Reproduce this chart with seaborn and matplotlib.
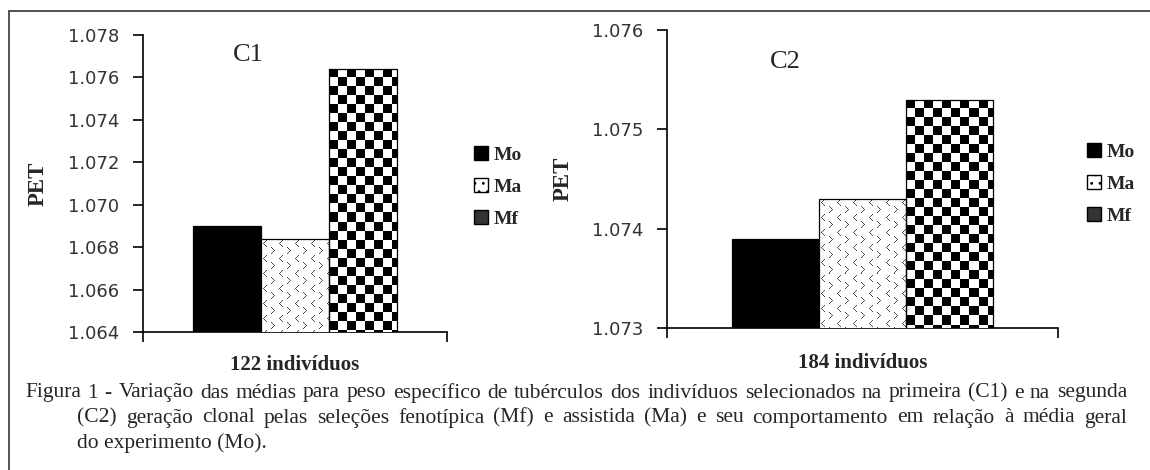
import numpy as np
import pandas as pd
import matplotlib
matplotlib.use("Agg")
import matplotlib.pyplot as plt
import seaborn as sns
from matplotlib.patches import Patch
from matplotlib.lines import Line2D
from matplotlib.transforms import Bbox, TransformedBbox

# ---------------- data ----------------
series = ["Mo", "Ma", "Mf"]
c1_group = "122 indivíduos"
c1_values = [1.0690, 1.06838, 1.0764]
c1_ticks = [1.064, 1.066, 1.068, 1.070, 1.072, 1.074, 1.076, 1.078]
c1_ticklabels = ["1.064", "1.066", "1.068", "1.070", "1.072", "1.074", "1.076", "1.078"]
c2_group = "184 indivíduos"
c2_values = [1.0739, 1.0743, 1.0753]
c2_ticks = [1.073, 1.074, 1.075, 1.076]
c2_ticklabels = ["1.073", "1.074", "1.075", "1.076"]
panel_titles = ["C1", "C2"]
y_label = "PET"
caption_lines = [
    "Figura 1 - Variação das médias para peso específico de tubérculos dos indivíduos selecionados na primeira (C1) e na segunda",
    "(C2) geração clonal pelas seleções fenotípica (Mf) e assistida (Ma) e seu comportamento em relação à média geral",
    "do experimento (Mo).",
]

# ---------------- style ----------------
sns.set_style("ticks")
plt.rcParams["font.family"] = ["Liberation Serif", "DejaVu Serif"]
plt.rcParams["hatch.linewidth"] = 0.8

W, H = 1150, 470
fig = plt.figure(figsize=(W / 100, H / 100), dpi=100)


def frame(x0, y0, x1, y1):
    return [x0 / W, 1 - y1 / H, (x1 - x0) / W, (y1 - y0) / H]


ax1 = fig.add_axes(frame(143, 35, 447, 332))
ax2 = fig.add_axes(frame(667, 30, 1058, 328))

# outer box (top and left rules)
fig.add_artist(Line2D([9 / W, 1.0], [1 - 11 / H, 1 - 11 / H], transform=fig.transFigure,
                      color="#444444", lw=1.3))
fig.add_artist(Line2D([9 / W, 9 / W], [0.0, 1 - 11 / H], transform=fig.transFigure,
                      color="#444444", lw=1.3))


def checker_rgb(ny, nx):
    yy, xx = np.mgrid[0:ny, 0:nx]
    black = ((xx + yy) % 2 == 0)
    arr = np.ones((ny, nx, 3))
    arr[black] = 0.0
    return arr


def marks_rgb(ny, nx):
    tile = np.ones((15, 16, 3))
    lt = [(0, 3), (1, 2), (2, 1), (3, 0), (4, 1), (5, 2), (6, 3)]
    gt = [(0, 0), (1, 1), (2, 2), (3, 3), (4, 2), (5, 1), (6, 0)]
    for r, c in lt:
        tile[1 + r, 2 + c] = 0.3
    for r, c in gt:
        tile[8 + r, 10 + c] = 0.3
    reps = (ny // 15 + 2, nx // 16 + 2, 1)
    return np.tile(tile, reps)[:ny, :nx]


def draw_panel(ax, group, values, ticks, ticklabels, title, title_xy, ylab_x, xlab_y, ylim):
    df = pd.DataFrame({"grupo": [group] * len(series), "serie": series, "PET": values})
    sns.barplot(data=df, x="grupo", y="PET", hue="serie", hue_order=series,
                palette=["black", "white", "white"], width=0.67, edgecolor="black",
                linewidth=0.9, ax=ax, legend=False, errorbar=None)
    ax.set_xlim(-0.5, 0.5)
    ax.set_ylim(*ylim)
    ax.set_yticks(ticks)
    ax.set_yticklabels(ticklabels)
    for lab in ax.get_yticklabels():
        lab.set_fontfamily("DejaVu Sans")
    ax.set_xticks([-0.5, 0.5])
    ax.set_xticklabels(["", ""])
    ax.tick_params(axis="both", direction="out", length=7, width=1.2, color="black",
                   bottom=True, left=True, top=False, right=False)
    ax.tick_params(axis="y", pad=10, labelsize=13, labelcolor="#333333")
    for s in ["top", "right"]:
        ax.spines[s].set_visible(False)
    for s in ["left", "bottom"]:
        ax.spines[s].set_color("black")
        ax.spines[s].set_linewidth(1.2)
    ax.set_xlabel(group, fontsize=15, fontweight="bold", va="center")
    ax.xaxis.set_label_coords(0.5, xlab_y)
    ax.set_ylabel(y_label, fontsize=16.5, fontweight="bold", va="center")
    ax.yaxis.set_label_coords(ylab_x, 0.5)
    ax.text(title_xy[0], title_xy[1], title, transform=ax.transAxes, fontsize=19,
            ha="center", va="center")

    # textures for Ma and Mf bars
    bars = sorted(ax.patches, key=lambda p: p.get_x())
    td = ax.transData
    px_per_x = td.transform((1, 0))[0] - td.transform((0, 0))[0]
    px_per_y = td.transform((0, 1))[1] - td.transform((0, 0))[1]
    ylo = ylim[0]
    for idx, p in enumerate(bars):
        name = series[idx]
        if name == "Mo":
            continue
        x0 = p.get_x()
        w = p.get_width()
        ytop = p.get_y() + p.get_height()
        wpx = w * px_per_x
        hpx = (ytop - ylo) * px_per_y
        if name == "Mf":
            cell = 9.0
            nx = int(np.ceil(wpx / cell)) + 1
            ny = int(np.ceil(hpx / cell)) + 1
            arr = checker_rgb(ny, nx)
            ext = (x0, x0 + nx * cell / px_per_x, ytop - ny * cell / px_per_y, ytop)
        else:
            nx = int(np.ceil(wpx)) + 2
            ny = int(np.ceil(hpx)) + 2
            arr = marks_rgb(ny, nx)
            ext = (x0, x0 + nx / px_per_x, ytop - ny / px_per_y, ytop)
        im = ax.imshow(arr, extent=ext, origin="upper", interpolation="nearest",
                       aspect="auto", zorder=3)
        clip = TransformedBbox(Bbox.from_extents(x0, ylo, x0 + w, ytop), ax.transData)
        im.set_clip_path(None)
        im.set_clip_box(clip)
        p.set_facecolor("none")
        p.set_zorder(4)
    ax.set_xlim(-0.5, 0.5)
    ax.set_ylim(*ylim)


draw_panel(ax1, c1_group, c1_values, c1_ticks, c1_ticklabels, panel_titles[0],
           ((248 - 143) / 304, (332 - 55) / 297), (38 - 143) / 304, -(365 - 332) / 297,
           (c1_ticks[0], c1_ticks[-1]))
draw_panel(ax2, c2_group, c2_values, c2_ticks, c2_ticklabels, panel_titles[1],
           ((785 - 667) / 391, (328 - 62) / 298), (563 - 667) / 391, -(363 - 328) / 298,
           (c2_ticks[0], c2_ticks[-1]))

handles = [
    Patch(facecolor="black", edgecolor="black", label="Mo"),
    Patch(facecolor="white", edgecolor="black", hatch="..", label="Ma"),
    Patch(facecolor="#333333", edgecolor="black", label="Mf"),
]
for ax, (lx, ly) in [(ax1, (474, 187)), (ax2, (1087, 184))]:
    ax.legend(handles=handles, loc="center left",
              bbox_to_anchor=(lx / W, 1 - ly / H), bbox_transform=fig.transFigure,
              frameon=False, borderpad=0, borderaxespad=0, handlelength=0.7,
              handleheight=0.7, handletextpad=0.3, labelspacing=0.75,
              prop={"family": "Liberation Serif", "weight": "bold", "size": 14})

# ---------------- caption (justified) ----------------
cap_fs = 15.5
renderer = fig.canvas.get_renderer()


def place_line(text, xl, xr, yc, justify):
    if not justify:
        fig.text(xl / W, 1 - yc / H, text, fontsize=cap_fs, ha="left", va="center")
        return
    words = text.split(" ")
    objs = [fig.text(0, 1 - yc / H, wd, fontsize=cap_fs, ha="left", va="center") for wd in words]
    widths = [o.get_window_extent(renderer).width for o in objs]
    gap = ((xr - xl) - sum(widths)) / (len(words) - 1)
    x = xl
    for o, wd in zip(objs, widths):
        o.set_x(x / W)
        x += wd + gap


place_line(caption_lines[0], 25, 1127, 393, True)
place_line(caption_lines[1], 77, 1127, 418, True)
place_line(caption_lines[2], 77, 1127, 443, False)

fig.savefig("out.png", dpi=100)
